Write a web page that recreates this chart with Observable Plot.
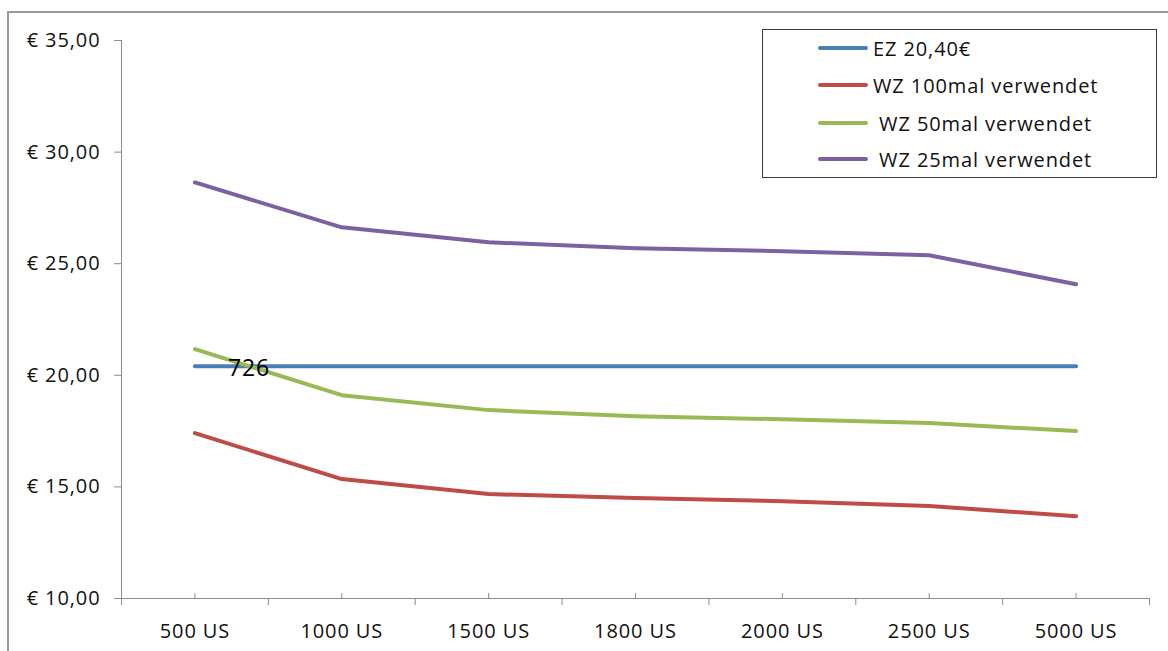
<!DOCTYPE html>
<html>
<head>
<meta charset="utf-8">
<script src="https://cdn.jsdelivr.net/npm/d3@7"></script>
<script src="https://cdn.jsdelivr.net/npm/@observablehq/plot@0.6"></script>
<style>
  body { margin: 0; background: #fff; font-family: "Open Sans", sans-serif; }
  #wrap { position: relative; width: 1168px; height: 651px; overflow: hidden; background: #fff; }
  #frame { position: absolute; left: 7px; top: 11px; width: 1300px; height: 800px;
           border-left: 2px solid #9a9a9a; border-top: 2px solid #9a9a9a; }
  #chart { position: absolute; left: 0; top: 0; }
  #legend { position: absolute; left: 762px; top: 29px; width: 393px; height: 147px;
            border: 1px solid #3a3a3a; background: #fff; }
  .entry { position: absolute; left: 55px; height: 30px; display: flex; align-items: center;
           font-size: 20px; letter-spacing: 0.9px; color: #111; white-space: pre; }
  .swatch { width: 50px; height: 4px; border-radius: 2px; margin-right: 5px; }
</style>
</head>
<body>
<div id="wrap">
  <div id="frame"></div>
  <div id="chart"></div>
  <div id="legend"></div>
</div>
<script>
// Unit counts along the x axis
const categories = ["500 US", "1000 US", "1500 US", "1800 US", "2000 US", "2500 US", "5000 US"];

// Cost per unit (EUR)
const ez = [20.40, 20.40, 20.40, 20.40, 20.40, 20.40, 20.40];
const wz100 = [17.41, 15.35, 14.68, 14.50, 14.36, 14.14, 13.69];
const wz50 = [21.17, 19.11, 18.44, 18.17, 18.03, 17.86, 17.50];
const wz25 = [28.64, 26.63, 25.96, 25.69, 25.56, 25.38, 24.08];

const seriesNames = ["EZ 20,40€", "WZ 100mal verwendet", " WZ 50mal verwendet", " WZ 25mal verwendet"];
const seriesValues = [ez, wz100, wz50, wz25];
const seriesColors = ["#4a7ebb", "#be4b48", "#98b954", "#7d60a0"];

const yTicks = [10, 15, 20, 25, 30, 35];
const pointLabel = "726";

const rows = seriesNames.flatMap((name, s) =>
  categories.map((c, i) => ({ series: name, x: i + 0.5, y: seriesValues[s][i] }))
);

const euro = d => "€ " + d.toFixed(2).replace(".", ",");
const bounds = d3.range(categories.length + 1);
const centers = categories.map((c, i) => i + 0.5);

const chart = Plot.plot({
  width: 1168,
  height: 651,
  marginLeft: 121,
  marginRight: 19,
  marginTop: 40,
  marginBottom: 53,
  style: { fontFamily: "Open Sans", fontSize: "20px", letterSpacing: "0.9px", background: "transparent", color: "#111" },
  x: { type: "linear", domain: [0, categories.length], axis: null },
  y: { domain: [10, 35], axis: null },
  color: { domain: seriesNames, range: seriesColors },
  marks: [
    Plot.ruleY([10], { stroke: "#8c8c8c" }),
    Plot.ruleX([0], { stroke: "#8c8c8c" }),
    Plot.axisY({ ticks: yTicks, tickSize: 7, tickPadding: 14, tickFormat: euro, label: null,
                 stroke: "#8c8c8c", fill: "#111" }),
    Plot.axisX({ ticks: bounds, tickSize: 7, tickFormat: () => "", label: null, stroke: "#8c8c8c" }),
    Plot.axisX({ ticks: centers, tickSize: -5, tickFormat: () => "", label: null, stroke: "#8c8c8c" }),
    Plot.axisX({ ticks: centers, tickSize: 0, tickPadding: 25, label: null,
                 tickFormat: d => categories[Math.floor(d)], fill: "#111" }),
    Plot.line(rows, { x: "x", y: "y", z: "series", stroke: "series", strokeWidth: 4,
                      strokeLinecap: "round", strokeLinejoin: "round" }),
    Plot.text([{ x: centers[0], y: ez[0] }], { x: "x", y: "y", text: () => pointLabel,
                      textAnchor: "start", dx: 33, dy: 2, fontSize: 23, letterSpacing: 0, fill: "#000" })
  ]
});
document.getElementById("chart").append(chart);

// Legend box
const legend = document.getElementById("legend");
const legendTops = [3, 40, 78, 114];
seriesNames.forEach((name, i) => {
  const e = document.createElement("div");
  e.className = "entry";
  e.style.top = legendTops[i] + "px";
  const sw = document.createElement("span");
  sw.className = "swatch";
  sw.style.background = seriesColors[i];
  const t = document.createElement("span");
  t.textContent = name;
  e.append(sw, t);
  legend.append(e);
});
</script>
</body>
</html>
